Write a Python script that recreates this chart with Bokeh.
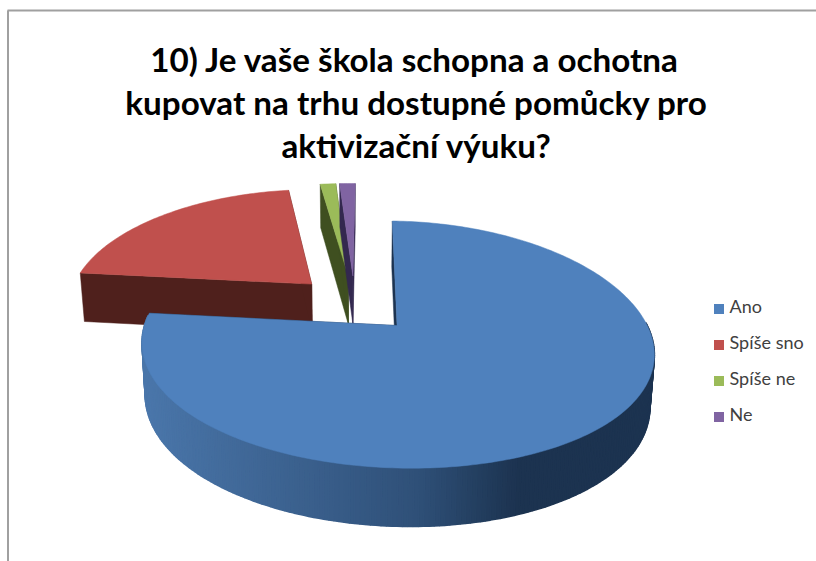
import math
from bokeh.core.properties import value
from bokeh.embed import file_html
from bokeh.models import Range1d
from bokeh.plotting import figure
from bokeh.resources import INLINE

# Survey answers (counts)
categories = ["Ano", "Spíše sno", "Spíše ne", "Ne"]
counts = [61, 17, 1, 1]
top_colors = ["#4f81bd", "#c0504d", "#9bbb59", "#8064a2"]
side_colors = ["#1c3350", "#4f201c", "#3f4f20", "#33284f"]
title_lines = [
    "10) Je vaše škola schopna a ochotna",
    "kupovat na trhu dostupné pomůcky pro",
    "aktivizační výuku?",
]

# Perspective camera of the 3D pie
CX, CY = 354.2, 303.0
RX, RY = 243.3, 114.0
PERSP_X = 0.18
PERSP_Y = 0.15
SKEW = 2.0
TILT = 0.012
EXPLODE = 0.25
DEPTH = 50.0
FOOT_SHRINK = 0.985


def project(u, v, lower=False):
    x = CX + RX * u / (1 + PERSP_X * v) + SKEW * v
    y = CY - RY * v / (1 + PERSP_Y * v)
    y += TILT * (x - CX)
    if lower:
        x = CX + (x - CX) * FOOT_SHRINK
        y += DEPTH / (1 + 0.12 * v)
    return x, y


def lerp_color(stops, x):
    if x <= stops[0][0]:
        return "#%02x%02x%02x" % stops[0][1]
    for (x0, c0), (x1, c1) in zip(stops, stops[1:]):
        if x <= x1:
            t = (x - x0) / (x1 - x0)
            return "#%02x%02x%02x" % tuple(round(a + (b - a) * t) for a, b in zip(c0, c1))
    return "#%02x%02x%02x" % stops[-1][1]


RIM_SHADE = [
    (145, (74, 118, 170)),
    (420, (47, 80, 120)),
    (520, (28, 51, 80)),
]

p = figure(
    width=816, height=561, output_backend="svg", toolbar_location=None,
    x_range=Range1d(0, 816), y_range=Range1d(561, 0),
    x_axis_location=None, y_axis_location=None, min_border=0,
    outline_line_color=None, background_fill_color="white", border_fill_color="white",
)
p.grid.visible = False

# Frame of the chart area: top and left edges only
p.line([7, 816], [10, 10], line_color="#a0a0a0", line_width=2)
p.line([7.5, 7.5], [10, 561], line_color="#a0a0a0", line_width=2)

# Slices start at 12 o'clock and run clockwise
total = sum(counts)
slices = []
start = 90.0
for name, n, top, side in zip(categories, counts, top_colors, side_colors):
    sweep = 360.0 * n / total
    slices.append((name, start, start - sweep, top, side))
    start -= sweep


def draw_slice(a0, a1, top, side, shaded_rim):
    mid = math.radians((a0 + a1) / 2)
    ou, ov = EXPLODE * math.cos(mid), EXPLODE * math.sin(mid)
    steps = max(4, int(abs(a0 - a1)))
    angles = [math.radians(a0 + (a1 - a0) * i / steps) for i in range(steps + 1)]
    rim = [(ou + math.cos(a), ov + math.sin(a)) for a in angles]
    apex = (ou, ov)

    # Radial cut faces
    for end in (rim[0], rim[-1]):
        pts = [project(*apex), project(*end), project(*end, lower=True), project(*apex, lower=True)]
        p.patch([q[0] for q in pts], [q[1] for q in pts], fill_color=side, line_color=side, line_width=0.5)

    # Outer wall: only the part facing the viewer, in narrow quads that carry the shade
    xs, ys, colors = [], [], []
    for (u0, v0), (u1, v1), ang in zip(rim, rim[1:], angles):
        if math.sin(ang) > 0.05:
            continue
        pts = [project(u0, v0), project(u1, v1), project(u1, v1, lower=True), project(u0, v0, lower=True)]
        xs.append([q[0] for q in pts])
        ys.append([q[1] for q in pts])
        colors.append(lerp_color(RIM_SHADE, pts[0][0]) if shaded_rim else side)
    if xs:
        p.patches(xs, ys, fill_color=colors, line_color=colors, line_width=1.6)

    # Top face
    pts = [project(*apex)] + [project(u, v) for u, v in rim]
    p.patch([q[0] for q in pts], [q[1] for q in pts], fill_color=top, line_color=top, line_width=0.5)


# Back slices first, the large front slice last
for name, a0, a1, top, side in slices[1:]:
    draw_slice(a0, a1, top, side, False)
name, a0, a1, top, side = slices[0]
draw_slice(a0, a1, top, side, True)

# Title
for line, base, cx in zip(title_lines, [58, 101, 144], [414.5, 416, 416]):
    p.text([cx], [base], text=[line], text_font=value("Lato"), text_font_style="bold",
           text_font_size="33.2px", text_color="#000000", text_align="center",
           text_baseline="alphabetic")

# Legend
leg_y = [307, 343, 379, 415]
p.scatter([718.5] * 4, [y + 1.5 for y in leg_y], marker="square", size=10, fill_color=top_colors, line_color=None)
p.text([729] * 4, [y - 1.5 for y in leg_y], text=categories, text_font=value("Lato"), text_font_size="18px",
       text_color="#404040", text_align="left", text_baseline="middle")

open("out.html", "w").write(file_html(p, INLINE))
